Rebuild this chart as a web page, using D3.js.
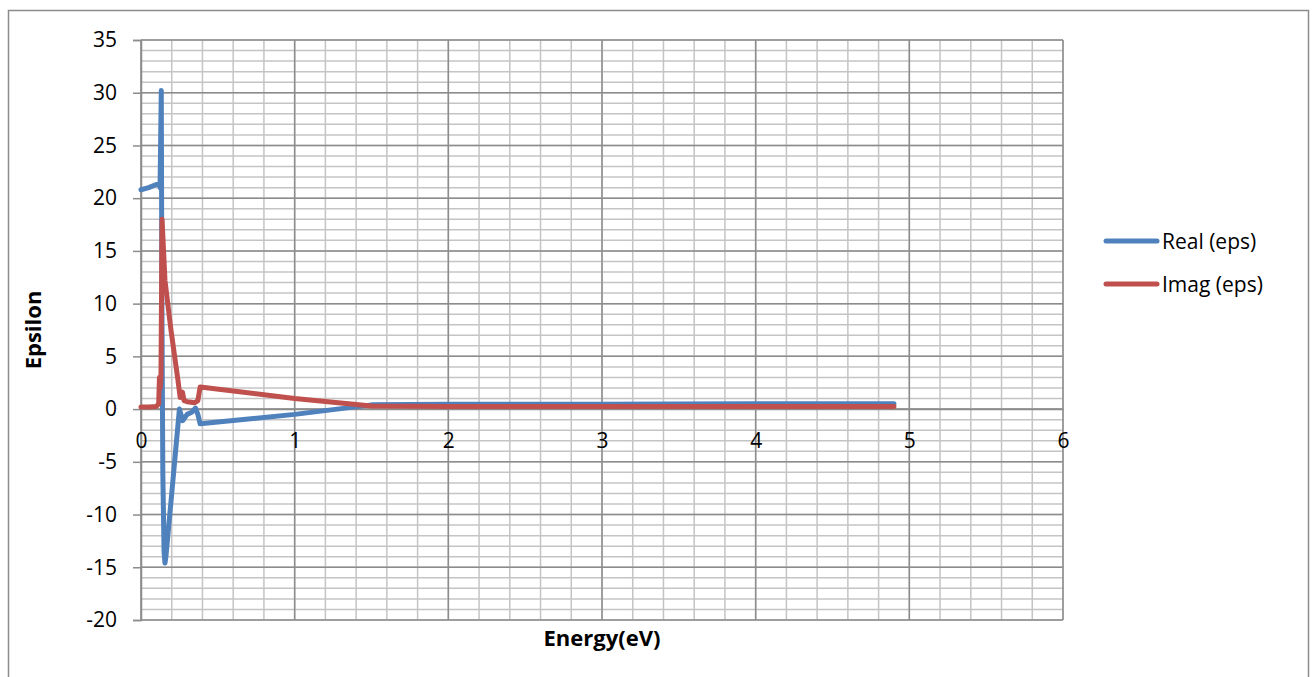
<!DOCTYPE html>
<html>
<head>
<meta charset="utf-8">
<script src="https://cdn.jsdelivr.net/npm/d3@7"></script>
<style>
  body { margin: 0; background: #fff; }
  text { font-family: "Open Sans", "Liberation Sans", sans-serif; }
</style>
</head>
<body>
<div id="chart"></div>
<script>
// values
var realEps = [
  [0, 20.8], [0.05, 21.0], [0.1, 21.3], [0.118, 21.3], [0.124, 21.0],
  [0.132, 30.2], [0.136, 10], [0.142, -6], [0.15, -13.5], [0.156, -14.6],
  [0.162, -14], [0.2, -8], [0.25, 0], [0.262, -0.6], [0.272, -1.1],
  [0.3, -0.5], [0.33, -0.3], [0.355, 0.1], [0.37, -0.5], [0.385, -1.4],
  [1.0, -0.5], [1.5, 0.4], [2, 0.45], [3, 0.45], [4, 0.5], [4.9, 0.5]
];
var imagEps = [
  [0, 0.2], [0.05, 0.2], [0.1, 0.25], [0.115, 0.5], [0.12, 3],
  [0.125, 2], [0.13, 3.2], [0.137, 18], [0.156, 12.2], [0.195, 7.5],
  [0.24, 2.8], [0.255, 1.1], [0.27, 1.6], [0.28, 0.8], [0.3, 0.7],
  [0.35, 0.6], [0.37, 0.8], [0.385, 2.1], [1.0, 1.0], [1.5, 0.3],
  [2, 0.25], [3, 0.25], [4, 0.25], [4.9, 0.25]
];
var seriesNames = ["Real (eps)", "Imag (eps)"];
var seriesColors = ["#4f81bd", "#c0504d"];
var xTicks = [0, 1, 2, 3, 4, 5, 6];
var yTicks = [35, 30, 25, 20, 15, 10, 5, 0, -5, -10, -15, -20];

var width = 1313, height = 677;
var mLeft = 141, mRight = 1063, mTop = 40, mBottom = 620;
var fontSize = 21;

var svg = d3.select("#chart").append("svg")
    .attr("width", width)
    .attr("height", height);

// outer frame
svg.append("rect")
    .attr("x", 8.5).attr("y", 10.5)
    .attr("width", 1300).attr("height", 700)
    .attr("fill", "none")
    .attr("stroke", "#8c8c8c")
    .attr("stroke-width", 1.5);

var x = d3.scaleLinear().domain([0, 6]).range([mLeft, mRight]);
var y = d3.scaleLinear().domain([-20, 35]).range([mBottom, mTop]);
var plain = function (d) { return String(d); };

// minor grid
var grid = svg.append("g");
grid.selectAll("line.mx")
    .data(d3.range(0, 6.01, 0.2))
    .enter().append("line")
    .attr("x1", function (d) { return x(d); })
    .attr("x2", function (d) { return x(d); })
    .attr("y1", mTop).attr("y2", mBottom)
    .attr("stroke", "#c4c4c4").attr("stroke-width", 1.5);
grid.selectAll("line.my")
    .data(d3.range(-20, 35.01, 1))
    .enter().append("line")
    .attr("y1", function (d) { return y(d); })
    .attr("y2", function (d) { return y(d); })
    .attr("x1", mLeft).attr("x2", mRight)
    .attr("stroke", "#c4c4c4").attr("stroke-width", 1.5);

// major grid
grid.selectAll("line.Mx")
    .data(xTicks)
    .enter().append("line")
    .attr("x1", function (d) { return x(d); })
    .attr("x2", function (d) { return x(d); })
    .attr("y1", mTop).attr("y2", mBottom)
    .attr("stroke", "#8c8c8c").attr("stroke-width", 1.5);
grid.selectAll("line.My")
    .data(yTicks)
    .enter().append("line")
    .attr("y1", function (d) { return y(d); })
    .attr("y2", function (d) { return y(d); })
    .attr("x1", mLeft).attr("x2", mRight)
    .attr("stroke", "#8c8c8c").attr("stroke-width", 1.5);

// y axis
var yAxis = d3.axisLeft(y).tickValues(yTicks).tickFormat(plain)
    .tickSize(8).tickPadding(16);
var gy = svg.append("g").attr("transform", "translate(" + mLeft + ",0)").call(yAxis);
gy.select(".domain").attr("stroke", "#8c8c8c").attr("stroke-width", 1.5);
gy.selectAll(".tick line").attr("stroke", "#8c8c8c").attr("stroke-width", 1.5);
gy.selectAll(".tick text")
    .attr("font-size", fontSize).attr("fill", "#000")
    .style("font-family", "'Open Sans', sans-serif");

// x axis crossing at zero
var xAxis = d3.axisBottom(x).tickValues(xTicks).tickFormat(plain)
    .tickSize(0).tickPadding(24);
var gx = svg.append("g").attr("transform", "translate(0," + y(0) + ")").call(xAxis);
gx.select(".domain").attr("stroke", "#8c8c8c").attr("stroke-width", 1.5);
gx.selectAll(".tick text")
    .attr("font-size", fontSize).attr("fill", "#000")
    .style("font-family", "'Open Sans', sans-serif");

// lines
var line = d3.line()
    .x(function (d) { return x(d[0]); })
    .y(function (d) { return y(d[1]); });

[realEps, imagEps].forEach(function (s, i) {
    svg.append("path")
        .datum(s)
        .attr("d", line)
        .attr("fill", "none")
        .attr("stroke", seriesColors[i])
        .attr("stroke-width", 5)
        .attr("stroke-linejoin", "round")
        .attr("stroke-linecap", "round");
});

// axis titles
svg.append("text")
    .attr("x", (mLeft + mRight) / 2).attr("y", 646)
    .attr("text-anchor", "middle")
    .attr("font-size", 22).attr("font-weight", "bold")
    .text("Energy(eV)");
svg.append("text")
    .attr("transform", "translate(41," + ((mTop + mBottom) / 2) + ") rotate(-90)")
    .attr("text-anchor", "middle")
    .attr("font-size", 22).attr("font-weight", "bold")
    .text("Epsilon");

// legend
var legend = svg.append("g");
seriesNames.forEach(function (name, i) {
    var ly = 241 + i * 43;
    legend.append("line")
        .attr("x1", 1106).attr("x2", 1157)
        .attr("y1", ly).attr("y2", ly)
        .attr("stroke", seriesColors[i])
        .attr("stroke-width", 5)
        .attr("stroke-linecap", "round");
    legend.append("text")
        .attr("x", 1162).attr("y", ly + 8)
        .attr("font-size", fontSize)
        .text(name);
});
</script>
</body>
</html>
